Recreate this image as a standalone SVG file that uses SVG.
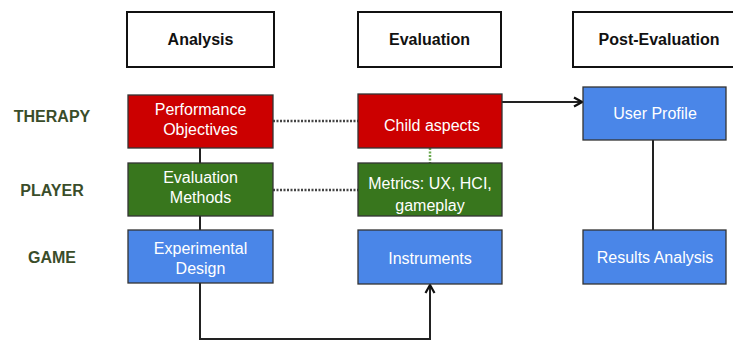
<svg xmlns="http://www.w3.org/2000/svg" width="733" height="341" viewBox="0 0 733 341">
<defs>
<style>
.hdr{fill:#fff;stroke:#111;stroke-width:2}
.box{stroke:#333;stroke-width:1.3}
.red{fill:#cc0000}
.green{fill:#38761d}
.blue{fill:#4a86e8}
.ht{font-family:"Liberation Sans",Arial,sans-serif;font-size:16px;font-weight:bold;fill:#111;text-anchor:middle}
.bt{font-family:"Liberation Sans",Arial,sans-serif;font-size:16px;fill:#fff;text-anchor:middle}
.rl{font-family:"Liberation Sans",Arial,sans-serif;font-size:16px;font-weight:bold;fill:#3a4d2a;text-anchor:middle}
.solid{stroke:#222;stroke-width:2;fill:none}
.dot{stroke:#444;stroke-width:2.5;stroke-dasharray:2 1.5;fill:none}
.gdot{stroke:#6aa84f;stroke-width:2.5;stroke-dasharray:2 1.5;fill:none}
</style>
<marker id="arr" viewBox="0 0 12 12" refX="10" refY="6" markerWidth="12" markerHeight="12" markerUnits="userSpaceOnUse" orient="auto">
<path d="M2,1.5 L10,6 L2,10.5" fill="none" stroke="#111" stroke-width="2.2"/>
</marker>
</defs>
<rect width="733" height="341" fill="#fff"/>

<g id="connectors">
<line class="solid" x1="200" y1="148" x2="200" y2="163"/>
<line class="solid" x1="200" y1="216" x2="200" y2="230"/>
<line class="dot" x1="273" y1="121" x2="358" y2="121"/>
<line class="dot" x1="273" y1="190" x2="358" y2="190"/>
<line class="gdot" x1="430" y1="148" x2="430" y2="163"/>
<line class="solid" x1="502" y1="102" x2="582" y2="102" marker-end="url(#arr)"/>
<line class="solid" x1="653" y1="140" x2="653" y2="230"/>
<polyline class="solid" points="200,283 200,339 430,339 430,285" marker-end="url(#arr)"/>
</g>

<g id="hdr-analysis"><rect class="hdr" x="127" y="12" width="147" height="55"/><text class="ht" x="200.5" y="45">Analysis</text></g>
<g id="hdr-evaluation"><rect class="hdr" x="358" y="12" width="143" height="55"/><text class="ht" x="429.5" y="45">Evaluation</text></g>
<g id="hdr-post"><rect class="hdr" x="573" y="12" width="175" height="55"/><text class="ht" x="659" y="45">Post-Evaluation</text></g>

<g id="lbl-therapy"><text class="rl" x="52" y="122">THERAPY</text></g>
<g id="lbl-player"><text class="rl" x="52" y="196">PLAYER</text></g>
<g id="lbl-game"><text class="rl" x="52" y="263">GAME</text></g>

<g id="performance-objectives"><rect class="box red" x="128" y="95" width="145" height="53"/><text class="bt" x="200.5" y="115">Performance</text><text class="bt" x="200.5" y="135">Objectives</text></g>
<g id="child-aspects"><rect class="box red" x="358" y="94" width="144" height="54"/><text class="bt" x="432" y="131">Child aspects</text></g>
<g id="user-profile"><rect class="box blue" x="583" y="87" width="143" height="53"/><text class="bt" x="655" y="119">User Profile</text></g>

<g id="evaluation-methods"><rect class="box green" x="128" y="163" width="145" height="53"/><text class="bt" x="200.5" y="183">Evaluation</text><text class="bt" x="200.5" y="203">Methods</text></g>
<g id="metrics"><rect class="box green" x="358" y="163" width="144" height="53"/><text class="bt" x="430" y="189">Metrics: UX, HCI,</text><text class="bt" x="430" y="211">gameplay</text></g>

<g id="experimental-design"><rect class="box blue" x="128" y="230" width="145" height="53"/><text class="bt" x="200.5" y="254">Experimental</text><text class="bt" x="200.5" y="274">Design</text></g>
<g id="instruments"><rect class="box blue" x="358" y="230" width="144" height="54"/><text class="bt" x="430" y="264">Instruments</text></g>
<g id="results-analysis"><rect class="box blue" x="583" y="230" width="143" height="54"/><text class="bt" x="655" y="263">Results Analysis</text></g>
</svg>
